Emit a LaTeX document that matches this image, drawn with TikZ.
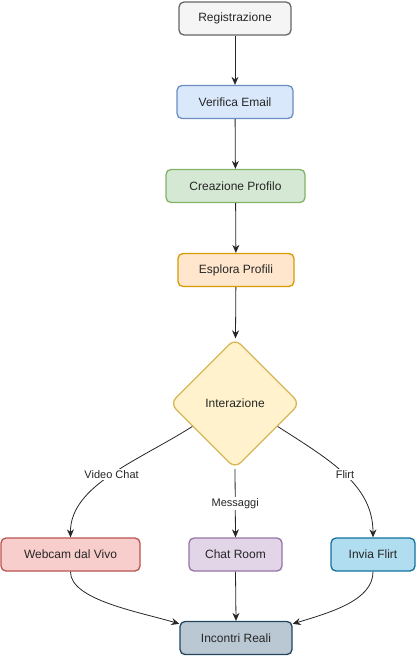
\documentclass[tikz,border=0pt]{standalone}
\usepackage{fontspec}
\setmainfont{Liberation Sans}
\usetikzlibrary{shapes.geometric,arrows.meta,calc}
\definecolor{gF}{HTML}{F5F5F5}\definecolor{gS}{HTML}{666666}
\definecolor{bF}{HTML}{DAE8FC}\definecolor{bS}{HTML}{6C8EBF}
\definecolor{grF}{HTML}{D5E8D4}\definecolor{grS}{HTML}{82B366}
\definecolor{oF}{HTML}{FFE6CC}\definecolor{oS}{HTML}{D79B00}
\definecolor{yF}{HTML}{FFF2CC}\definecolor{yS}{HTML}{D6B656}
\definecolor{rF}{HTML}{F8CECC}\definecolor{rS}{HTML}{B85450}
\definecolor{pF}{HTML}{E1D5E7}\definecolor{pS}{HTML}{9673A6}
\definecolor{cF}{HTML}{B1DDF0}\definecolor{cS}{HTML}{10739E}
\definecolor{sF}{HTML}{BAC8D3}\definecolor{sS}{HTML}{23445D}
\begin{document}
\begin{tikzpicture}[x=1pt,y=-1pt,
  box/.style={draw, rounded corners=5pt, line width=1.3pt, minimum height=33pt, inner sep=0pt, font=\fontsize{12}{14}\selectfont, text=black!85},
  arr/.style={-{Stealth[length=8pt,width=7pt]}, line width=0.8pt, draw=black!85},
  lbl/.style={fill=white, inner sep=1.5pt, font=\fontsize{11}{13}\selectfont, text=black!85}]
\useasboundingbox (0,0) rectangle (416,656);
\node[box, fill=gF, draw=gS, minimum width=112pt] (reg) at (235,18.5) {Registrazione};
\node[box, fill=bF, draw=bS, minimum width=116pt] (ver) at (235,102) {Verifica Email};
\node[box, fill=grF, draw=grS, minimum width=139pt] (cre) at (235.5,186) {Creazione Profilo};
\node[box, fill=oF, draw=oS, minimum width=116pt] (esp) at (236,270) {Esplora Profili};
\node[diamond, draw=yS, fill=yF, line width=1.3pt, rounded corners=8pt, minimum width=130pt, minimum height=130pt, inner sep=0pt, font=\fontsize{12}{14}\selectfont, text=black!85] (int) at (235,403.5) {Interazione};
\node[box, fill=rF, draw=rS, minimum width=139pt] (web) at (70.5,554.5) {Webcam dal Vivo};
\node[box, fill=pF, draw=pS, minimum width=93pt] (chat) at (235.5,554.5) {Chat Room};
\node[box, fill=cF, draw=cS, minimum width=84pt] (flirt) at (373,554.5) {Invia Flirt};
\node[box, fill=sF, draw=sS, minimum width=112pt] (inc) at (236,638) {Incontri Reali};
\draw[arr] (reg) -- (ver);
\draw[arr] (ver) -- (cre);
\draw[arr] (cre) -- (esp);
\draw[arr] (esp) -- (int);
\coordinate (il) at ($(int.west)!0.35!(int.south)$);
\coordinate (ir) at ($(int.east)!0.35!(int.south)$);
\draw[arr] (il) .. controls (140,460) and (70,485) .. (web.north) node[lbl, pos=0.5] {Video Chat};
\draw[arr] (int.south) -- (chat.north) node[lbl, midway] {Messaggi};
\draw[arr] (ir) .. controls (330,460) and (373,485) .. (flirt.north) node[lbl, pos=0.5] {Flirt};
\coordinate (inl) at ($(inc.north west)+(0,3)$);
\coordinate (inr) at ($(inc.north east)+(0,3)$);
\draw[arr] (web.south) .. controls (70,600) and (140,612) .. (inl);
\draw[arr] (chat.south) -- (inc.north);
\draw[arr] (flirt.south) .. controls (373,600) and (332,612) .. (inr);
\end{tikzpicture}
\end{document}
